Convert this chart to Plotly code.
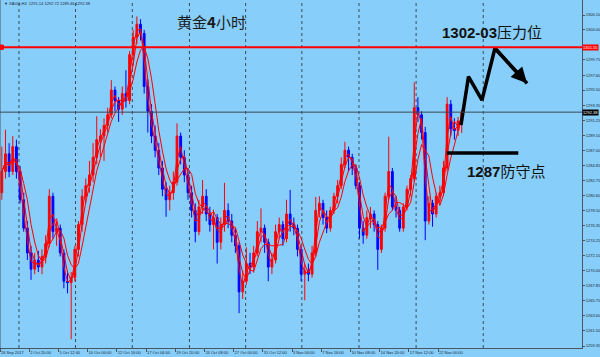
import plotly.graph_objects as go
import pandas as pd

# ---------------- data (XAUUSD H4; 1 bar here ~ 2 original bars) ----------------
open_ = [1281.0, 1284.0, 1286.5, 1284.0, 1287.5, 1284.0, 1280.0, 1276.0, 1272.5, 1270.2,
         1271.5, 1270.5, 1272.0, 1273.8, 1280.5, 1275.5, 1276.0, 1272.5, 1268.5, 1268.3,
         1269.0, 1273.0, 1276.5, 1280.5, 1282.0, 1283.5, 1286.0, 1288.5, 1289.0, 1290.5,
         1292.0, 1295.5, 1294.0, 1292.8, 1295.0, 1294.0, 1300.5, 1303.0, 1304.8, 1303.5,
         1296.0, 1292.5, 1289.0, 1287.0, 1284.5, 1281.5, 1280.0, 1281.0, 1282.5, 1289.0,
         1286.0, 1283.5, 1281.0, 1278.5, 1275.5, 1279.0, 1280.5, 1278.0, 1276.5, 1277.5,
         1274.0, 1276.5, 1278.5, 1277.0, 1275.0, 1273.5, 1267.0, 1268.5, 1271.0, 1270.5,
         1272.5, 1275.5, 1276.0, 1274.0, 1270.5, 1271.5, 1275.5, 1276.5, 1274.5, 1278.0,
         1276.5, 1276.0, 1273.0, 1269.5, 1270.0, 1269.5, 1272.5, 1278.5, 1279.5, 1277.5,
         1276.0, 1278.5, 1280.5, 1282.0, 1285.0, 1287.0, 1286.0, 1284.5, 1282.0, 1276.0,
         1275.0, 1277.5, 1278.0, 1276.5, 1273.0, 1276.0, 1280.5, 1284.0, 1279.0, 1278.5,
         1276.0, 1279.0, 1281.5, 1283.0, 1293.0, 1292.0, 1289.5, 1277.0, 1279.5, 1278.0,
         1280.5, 1281.0, 1284.5, 1293.5, 1290.0, 1289.8, 1291.14]
high = [1287.5, 1289.9, 1288.0, 1289.0, 1288.5, 1284.8, 1281.0, 1277.0, 1273.5, 1272.5,
        1272.8, 1273.0, 1275.0, 1281.5, 1281.0, 1277.0, 1276.5, 1273.0, 1270.0, 1269.8,
        1273.5, 1277.0, 1281.5, 1283.0, 1285.5, 1288.0, 1291.8, 1290.0, 1291.5, 1293.0,
        1296.9, 1296.0, 1294.5, 1296.0, 1298.3, 1301.0, 1304.0, 1305.9, 1305.5, 1304.0,
        1297.0, 1293.5, 1290.5, 1288.0, 1285.5, 1282.5, 1282.0, 1284.0, 1290.8, 1289.5,
        1287.0, 1284.5, 1282.0, 1279.5, 1280.0, 1282.8, 1281.5, 1279.0, 1278.6, 1278.0,
        1277.5, 1282.4, 1279.5, 1278.0, 1276.0, 1274.0, 1270.0, 1273.3, 1272.5, 1273.5,
        1277.0, 1278.8, 1276.5, 1274.5, 1272.5, 1276.5, 1277.5, 1277.0, 1280.0, 1281.4,
        1277.5, 1276.5, 1273.5, 1271.0, 1271.0, 1273.5, 1280.4, 1280.5, 1280.0, 1278.5,
        1279.0, 1281.0, 1282.8, 1286.0, 1288.2, 1287.5, 1286.5, 1285.0, 1282.5, 1277.0,
        1278.5, 1279.0, 1278.5, 1277.0, 1276.5, 1281.0, 1288.9, 1284.5, 1280.5, 1279.0,
        1279.5, 1282.0, 1283.5, 1296.6, 1294.5, 1292.5, 1290.3, 1280.5, 1280.0, 1281.0,
        1282.0, 1285.5, 1294.5, 1294.1, 1291.5, 1291.7, 1292.72]
low = [1280.0, 1283.0, 1283.2, 1283.5, 1283.0, 1279.5, 1275.5, 1271.5, 1268.7, 1269.5,
       1269.8, 1269.5, 1271.0, 1273.3, 1274.5, 1273.5, 1272.0, 1267.5, 1266.8, 1260.3,
       1268.5, 1272.0, 1275.5, 1279.5, 1281.0, 1282.5, 1285.0, 1286.0, 1285.5, 1289.5,
       1291.5, 1292.5, 1291.0, 1292.0, 1293.0, 1293.5, 1299.0, 1302.0, 1302.5, 1295.0,
       1289.5, 1288.0, 1286.0, 1283.5, 1280.5, 1277.6, 1278.5, 1280.0, 1282.0, 1285.0,
       1282.5, 1280.0, 1277.5, 1274.0, 1275.0, 1278.0, 1277.0, 1275.5, 1273.0, 1271.0,
       1273.0, 1275.5, 1276.0, 1274.0, 1272.5, 1264.0, 1266.0, 1268.0, 1269.5, 1269.7,
       1272.0, 1274.0, 1272.5, 1268.5, 1269.5, 1271.0, 1274.5, 1273.5, 1274.0, 1275.5,
       1275.0, 1272.0, 1268.5, 1265.8, 1268.5, 1269.0, 1272.0, 1277.5, 1276.5, 1275.3,
       1275.5, 1278.0, 1279.5, 1281.5, 1284.5, 1284.0, 1283.5, 1281.5, 1274.5, 1273.8,
       1274.5, 1276.0, 1275.5, 1270.1, 1272.5, 1275.5, 1280.0, 1278.5, 1277.5, 1275.5,
       1275.5, 1278.5, 1280.5, 1282.5, 1291.0, 1288.5, 1274.3, 1276.5, 1276.2, 1277.5,
       1279.5, 1280.5, 1284.0, 1289.0, 1288.5, 1289.0, 1289.46]
close = [1284.0, 1286.5, 1284.0, 1287.5, 1284.0, 1280.0, 1276.0, 1272.5, 1270.2, 1271.5,
         1270.5, 1272.0, 1273.8, 1280.5, 1275.5, 1276.0, 1272.5, 1268.5, 1268.3, 1269.0,
         1273.0, 1276.5, 1280.5, 1282.0, 1283.5, 1286.0, 1288.5, 1289.0, 1290.5, 1292.0,
         1295.5, 1294.0, 1292.8, 1295.0, 1294.0, 1300.5, 1303.0, 1304.8, 1303.5, 1296.0,
         1292.5, 1289.0, 1287.0, 1284.5, 1281.5, 1280.0, 1281.0, 1282.5, 1289.0, 1286.0,
         1283.5, 1281.0, 1278.5, 1275.5, 1279.0, 1280.5, 1278.0, 1276.5, 1277.5, 1274.0,
         1276.5, 1278.5, 1277.0, 1275.0, 1273.5, 1267.0, 1268.5, 1271.0, 1270.5, 1272.5,
         1275.5, 1276.0, 1274.0, 1270.5, 1271.5, 1275.5, 1276.5, 1274.5, 1278.0, 1276.5,
         1276.0, 1273.0, 1269.5, 1270.0, 1269.5, 1272.5, 1278.5, 1279.5, 1277.5, 1276.0,
         1278.5, 1280.5, 1282.0, 1285.0, 1287.0, 1286.0, 1284.5, 1282.0, 1276.0, 1275.0,
         1277.5, 1278.0, 1276.5, 1273.0, 1276.0, 1280.5, 1284.0, 1279.0, 1278.5, 1276.0,
         1279.0, 1281.5, 1283.0, 1293.0, 1292.0, 1289.5, 1277.0, 1279.5, 1278.0, 1280.5,
         1281.0, 1284.5, 1293.5, 1290.0, 1289.8, 1291.14, 1292.38]

x_tick_labels = ["26 Sep 2017", "2 Oct 20:00", "5 Oct 12:00", "10 Oct 00:00", "12 Oct 16:00",
                 "17 Oct 04:00", "19 Oct 20:00", "24 Oct 08:00", "27 Oct 00:00", "31 Oct 12:00",
                 "3 Nov 04:00", "7 Nov 16:00", "10 Nov 08:00", "14 Nov 20:00", "17 Nov 12:00",
                 "22 Nov 00:00"]
y_tick_values = [1306.10, 1304.00, 1299.75, 1297.60, 1295.50, 1293.35, 1291.25, 1289.10,
                 1287.00, 1284.85, 1282.75, 1280.60, 1278.50, 1276.35, 1274.25, 1272.10,
                 1270.00, 1267.85, 1265.75, 1263.60, 1261.50, 1259.35]
week_separators = [4.7, 20.2, 35.75, 51.4, 66.8, 82.2, 97.85, 113.5, 131.9]
resistance_level = 1301.55
support_level = 1286.6
last_price = close[-1]
ma_periods = [2, 3, 5]
forecast_bars = [125.8, 127.85, 131.55, 135.1]
forecast_prices = [1290.56, 1297.41, 1294.09, 1301.4]
forecast_tip = (143.9, 1296.45)
support_span = (121.9, 141.5)
header = "\u25bc XAUG,H4  1291.14 1292.72 1289.46 1292.38"

# ---------------- figure ----------------
BG = "#87cefa"
AXC = "#4a5663"
TXT = "#1b2836"
bars = list(range(len(close)))

fig = go.Figure()
fig.add_trace(go.Candlestick(
    x=bars, open=open_, high=high, low=low, close=close,
    increasing=dict(line=dict(color="#ff0000", width=1), fillcolor="#ff0000"),
    decreasing=dict(line=dict(color="#0000ff", width=1), fillcolor="#0000ff"),
    whiskerwidth=0, showlegend=False, hoverinfo="skip"))

cs = pd.Series(close)
for p in ma_periods:
    fig.add_trace(go.Scatter(x=bars, y=cs.rolling(p, min_periods=1).mean(), mode="lines",
                             line=dict(color="#ff0000", width=1), showlegend=False,
                             hoverinfo="skip"))

fig.add_trace(go.Scatter(x=forecast_bars + [forecast_tip[0]],
                         y=forecast_prices + [forecast_tip[1]], mode="lines",
                         line=dict(color="#000000", width=3.5), showlegend=False,
                         hoverinfo="skip", cliponaxis=False))

shapes = []
for v in week_separators:
    shapes.append(dict(type="line", xref="x", yref="paper", x0=v, x1=v, y0=0, y1=1,
                       line=dict(color="#3d4b57", width=1, dash="dot"), layer="below"))
shapes.append(dict(type="line", xref="paper", yref="paper", x0=0, x1=0, y0=0, y1=1,
                   line=dict(color=AXC, width=1)))
shapes.append(dict(type="line", xref="paper", yref="y", x0=0, x1=1,
                   y0=resistance_level, y1=resistance_level,
                   line=dict(color="#ff0000", width=2)))
shapes.append(dict(type="line", xref="paper", yref="y", x0=0, x1=1,
                   y0=last_price, y1=last_price, line=dict(color="#3b4653", width=1)))
shapes.append(dict(type="line", xref="x", yref="y", x0=support_span[0], x1=support_span[1],
                   y0=support_level, y1=support_level, line=dict(color="#000000", width=3.5)))
shapes.append(dict(type="rect", xref="paper", yref="y", x0=0, x1=0.006,
                   y0=resistance_level - 0.3, y1=resistance_level + 0.3,
                   line=dict(color="#ff0000", width=1), fillcolor="#ff0000"))

annotations = [
    dict(x=1.0, xref="paper", y=resistance_level, yref="y", text=f"{resistance_level:.2f}",
         showarrow=False, xanchor="left", yanchor="middle", bgcolor="#ff0000",
         font=dict(size=4, color="#ffffff", family="Liberation Sans"), borderpad=0),
    dict(x=1.0, xref="paper", y=last_price, yref="y", text=f"{last_price:.2f}",
         showarrow=False, xanchor="left", yanchor="middle", bgcolor="#000000",
         font=dict(size=4, color="#ffffff", family="Liberation Sans"), borderpad=0),
    dict(x=0.003, xref="paper", y=0.989, yref="paper", text=header, showarrow=False,
         xanchor="left", yanchor="middle",
         font=dict(size=4, color=TXT, family="Liberation Sans")),
    dict(x=0.364, xref="paper", y=0.937, yref="paper", text="黄金<b>4</b>小时",
         showarrow=False, xanchor="center", yanchor="middle",
         font=dict(size=15, color="#1a1a1a", family="Noto Sans CJK SC")),
    dict(x=0.846, xref="paper", y=0.907, yref="paper", text="<b>1302-03</b>压力位",
         showarrow=False, xanchor="center", yanchor="middle",
         font=dict(size=15, color="#111111", family="Liberation Sans, Noto Sans CJK SC")),
    dict(x=0.869, xref="paper", y=0.506, yref="paper", text="<b>1287</b>防守点",
         showarrow=False, xanchor="center", yanchor="middle",
         font=dict(size=15, color="#111111", family="Liberation Sans, Noto Sans CJK SC")),
    dict(x=forecast_tip[0], y=forecast_tip[1], xref="x", yref="y",
         ax=forecast_bars[-1], ay=forecast_prices[-1], axref="x", ayref="y",
         text="", showarrow=True, arrowhead=2, arrowsize=0.9, arrowwidth=3.5,
         arrowcolor="#000000"),
]

tick_positions = [-0.5] + [7.5 + 8 * k for k in range(len(x_tick_labels) - 1)]

fig.update_layout(
    width=600, height=357,
    margin=dict(l=0, r=18, t=0, b=9),
    paper_bgcolor=BG, plot_bgcolor=BG,
    showlegend=False,
    shapes=shapes, annotations=annotations,
    xaxis=dict(range=[-0.5, -0.5 + 582 / 3.65], rangeslider=dict(visible=False),
               showgrid=False, zeroline=False, showline=True, linecolor=AXC, linewidth=1,
               ticks="outside", ticklen=3, tickcolor=AXC, tickvals=tick_positions,
               ticktext=x_tick_labels, ticklabelposition="outside right", tickangle=0,
               tickfont=dict(size=4, color=TXT, family="Liberation Sans")),
    yaxis=dict(range=[1259.07, 1308.22], side="right", showgrid=False, zeroline=False,
               showline=True, linecolor=AXC, linewidth=1, ticks="outside", ticklen=2,
               tickcolor=AXC, tickvals=y_tick_values,
               ticktext=[f"{v:.2f}" for v in y_tick_values],
               tickfont=dict(size=4, color=TXT, family="Liberation Sans")),
)

fig.write_html("out.html")
